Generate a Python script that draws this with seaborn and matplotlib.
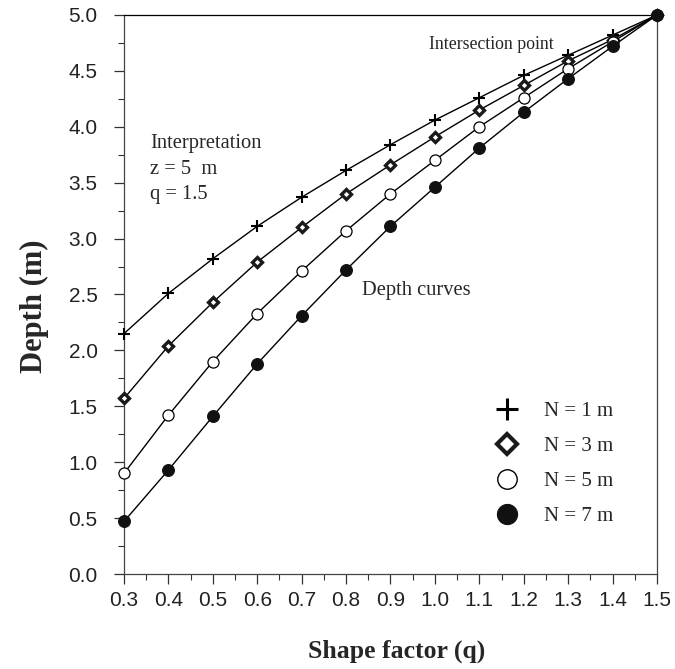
import numpy as np
import pandas as pd
import matplotlib
matplotlib.use("Agg")
import matplotlib.pyplot as plt
import seaborn as sns
from matplotlib.lines import Line2D
from matplotlib.ticker import MultipleLocator, FormatStrFormatter

# shape factor values
q_values = [0.3, 0.4, 0.5, 0.6, 0.7, 0.8, 0.9, 1.0, 1.1, 1.2, 1.3, 1.4, 1.5]

# depth curves for each N
depth_n1 = [2.15, 2.51, 2.82, 3.11, 3.37, 3.61, 3.84, 4.06, 4.26, 4.46, 4.64, 4.82, 5.0]
depth_n3 = [1.57, 2.04, 2.43, 2.79, 3.10, 3.40, 3.66, 3.91, 4.15, 4.37, 4.59, 4.78, 5.0]
depth_n5 = [0.90, 1.42, 1.90, 2.33, 2.71, 3.07, 3.40, 3.70, 4.00, 4.26, 4.52, 4.76, 5.0]
depth_n7 = [0.47, 0.93, 1.41, 1.88, 2.31, 2.72, 3.11, 3.46, 3.81, 4.13, 4.43, 4.72, 5.0]

labels = ["N = 1 m", "N = 3 m", "N = 5 m", "N = 7 m"]


def main():
    sns.set_style("ticks")
    plt.rcParams["font.family"] = ["Liberation Sans", "DejaVu Sans"]
    serif = ["Liberation Serif", "DejaVu Serif"]

    fig = plt.figure(figsize=(6.75, 6.69), dpi=100)
    ax = fig.add_axes([0.1837, 0.142, 0.7896, 0.8356])

    series = [depth_n1, depth_n3, depth_n5, depth_n7]
    styles = [
        dict(marker="+", ms=9, mew=1.5, mfc="black", mec="black"),
        dict(marker="D", ms=5.5, mew=2.4, mfc="white", mec="#1a1a1a"),
        dict(marker="o", ms=8, mew=0.9, mfc="white", mec="black"),
        dict(marker="o", ms=8.5, mew=0.8, mfc="#111111", mec="#111111"),
    ]
    # bigger symbols in the legend
    legend_styles = [
        dict(marker="+", ms=16, mew=2.2, mfc="black", mec="black"),
        dict(marker="D", ms=10, mew=3.0, mfc="white", mec="#1a1a1a"),
        dict(marker="o", ms=14, mew=1.0, mfc="white", mec="black"),
        dict(marker="o", ms=14.5, mew=0.8, mfc="#111111", mec="#111111"),
    ]

    for depth, st in zip(series, styles):
        df = pd.DataFrame({"q": q_values, "depth": depth})
        sns.lineplot(data=df, x="q", y="depth", color="black", lw=1.0,
                     ax=ax, clip_on=False, zorder=3, **st)

    ax.set_xlim(0.3, 1.5)
    ax.set_ylim(0.0, 5.0)
    ax.xaxis.set_major_locator(MultipleLocator(0.1))
    ax.xaxis.set_minor_locator(MultipleLocator(0.05))
    ax.yaxis.set_major_locator(MultipleLocator(0.5))
    ax.yaxis.set_minor_locator(MultipleLocator(0.25))
    ax.xaxis.set_major_formatter(FormatStrFormatter("%.1f"))
    ax.yaxis.set_major_formatter(FormatStrFormatter("%.1f"))
    ax.tick_params(which="major", direction="out", length=7, width=0.9,
                   labelsize=15, color="#333333", labelcolor="#222222")
    ax.tick_params(which="minor", direction="out", length=4, width=0.8,
                   color="#333333")
    ax.tick_params(axis="y", pad=12)
    ax.tick_params(axis="x", pad=5)
    for sp in ax.spines.values():
        sp.set_visible(True)
        sp.set_linewidth(0.9)
        sp.set_color("#444444")
    ax.spines["top"].set_color("black")

    ax.set_xlabel("Shape factor (q)", family=serif, fontweight="bold",
                  fontsize=18.5)
    ax.set_ylabel("Depth (m)", family=serif, fontweight="bold",
                  fontsize=22)
    ax.xaxis.set_label_coords(0.512, -0.117)
    ax.yaxis.set_label_coords(-0.14, 0.479)

    ax.text(0.359, 3.85, "Interpretation", family=serif, fontsize=14.8,
            va="center", ha="left")
    ax.text(0.359, 3.62, "z = 5  m", family=serif, fontsize=14.8,
            va="center", ha="left")
    ax.text(0.359, 3.39, "q = 1.5", family=serif, fontsize=14.8,
            va="center", ha="left")
    ax.text(0.987, 4.74, "Intersection point", family=serif, fontsize=12.8,
            va="center", ha="left")
    ax.text(0.836, 2.54, "Depth curves", family=serif, fontsize=14.8,
            va="center", ha="left")

    handles = []
    for st, lab in zip(legend_styles, labels):
        h = Line2D([], [], linestyle="none", color="black", label=lab, **st)
        handles.append(h)
    ax.legend(handles=handles, loc="upper left", bbox_to_anchor=(0.645, 0.342),
              frameon=False, handlelength=2.0, handletextpad=0.77,
              labelspacing=0.74, prop={"family": serif, "size": 15})

    fig.savefig("out.png", dpi=100)
    plt.close(fig)


if __name__ == "__main__":
    main()
